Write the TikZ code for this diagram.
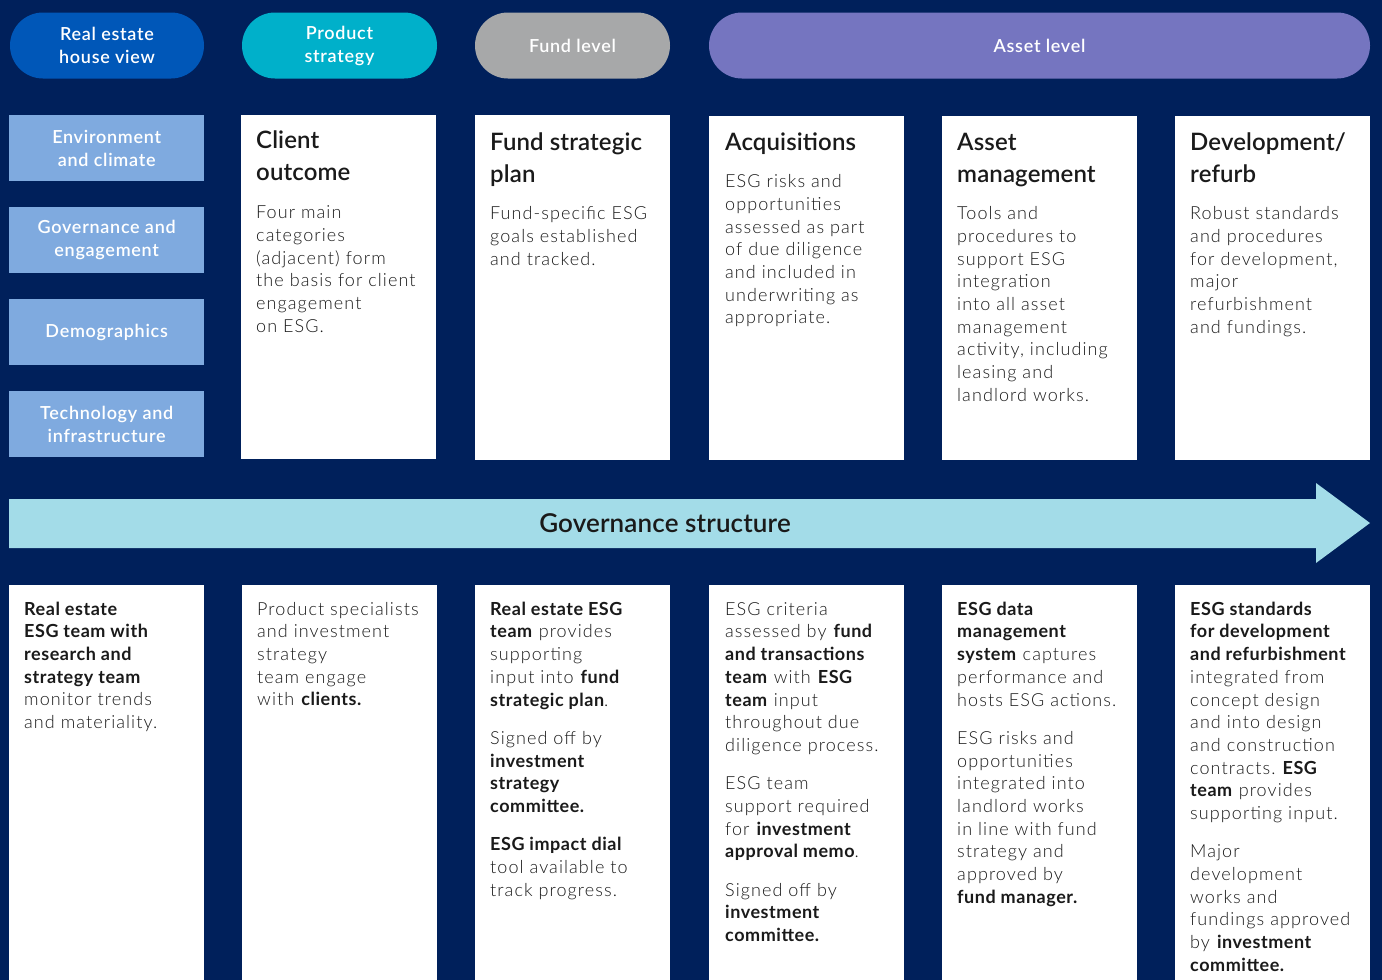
\documentclass[tikz,border=0pt]{standalone}
\usepackage{fontspec}
\setmainfont{Lato Light}[BoldFont={Lato Bold}, LetterSpace=6, BoldFeatures={LetterSpace=3}]
\newfontfamily\medfont{Lato Semibold}[LetterSpace=4]
\newfontfamily\titfont{Lato Semibold}[LetterSpace=0.5]
\frenchspacing
\definecolor{bg}{HTML}{00205B}
\definecolor{pillA}{HTML}{0057B8}
\definecolor{pillB}{HTML}{00B0CA}
\definecolor{pillC}{HTML}{A7A8A9}
\definecolor{pillD}{HTML}{7575C0}
\definecolor{catblue}{HTML}{7FAADF}
\definecolor{arrowcol}{HTML}{A3DCE8}
\definecolor{ink}{HTML}{1A1A1A}
\newcommand\bodyf{\fontsize{18}{22.7}\selectfont}
\newcommand\gap{15.6pt}
\tikzset{
  pill/.style={fill=#1, rounded corners=33pt, minimum height=66pt, inner sep=0pt,
    text=white, font=\medfont\fontsize{18}{23}\selectfont, align=center},
  catbox/.style={fill=catblue, anchor=north west, minimum width=195pt, minimum height=66pt,
    inner sep=0pt, text=white, font=\medfont\fontsize{18}{23}\selectfont, align=center},
  card/.style={fill=white, anchor=north west, inner sep=0pt, minimum width=195pt},
  cardtitle/.style={anchor=north west, inner sep=0pt, align=left, text=ink,
    font=\titfont\fontsize{24}{32}\selectfont},
  cardbody/.style={anchor=north west, inner sep=0pt, align=left, text=ink, font=\bodyf},
}
\begin{document}
\begin{tikzpicture}[x=1pt, y=-1pt]
\useasboundingbox (0,0) rectangle (1382,980);
\fill[bg] (0,0) rectangle (1382,980);

% header pills
\node[pill=pillA, minimum width=194pt] (p1) at (107,45.5) {Real estate\\house view};
\node[pill=pillB, minimum width=195pt] (p2) at (339.5,45.5) {Product\\strategy};
\node[pill=pillC, minimum width=195pt] (p3) at (572.5,45.5) {Fund level};
\node[pill=pillD, minimum width=661pt] (p4) at (1039.5,45.5) {Asset level};

% category boxes
\node[catbox] (c1) at (9,115) {Environment\\and climate};
\node[catbox] (c2) at (9,207) {Governance and\\engagement};
\node[catbox] (c3) at (9,299) {Demographics};
\node[catbox] (c4) at (9,391) {Technology and\\infrastructure};

% top cards
\node[card, minimum height=344pt] (t1) at (241,115) {};
\node[card, minimum height=345pt] (t2) at (475,115) {};
\node[card, minimum height=344pt] (t3) at (709,116) {};
\node[card, minimum height=344pt] (t4) at (942,116) {};
\node[card, minimum height=344pt] (t5) at (1175,116) {};

\node[cardtitle] (t1h) at (256,126.1) {\strut Client\\outcome};
\node[cardbody] (t1b) at (256,202.6) {\strut Four main\\categories\\(adjacent) form\\the basis for client\\engagement\\on ESG.};

\node[cardtitle] (t2h) at (490,127.6) {\strut Fund strategic\\plan};
\node[cardbody] (t2b) at (490,203.6) {\strut Fund-specific ESG\\goals established\\and tracked.};

\node[cardtitle] (t3h) at (725,127.6) {\strut Acquisitions};
\node[cardbody] (t3b) at (725,171.6) {\strut ESG risks and\\opportunities\\assessed as part\\of due diligence\\and included in\\underwriting as\\appropriate.};

\node[cardtitle] (t4h) at (957,127.6) {\strut Asset\\management};
\node[cardbody] (t4b) at (957,203.6) {\strut Tools and\\procedures to\\support ESG\\integration\\into all asset\\management\\activity, including\\leasing and\\landlord works.};

\node[cardtitle] (t5h) at (1190,127.6) {\strut Development/\\refurb};
\node[cardbody] (t5b) at (1190,203.6) {\strut Robust standards\\and procedures\\for development,\\major\\refurbishment\\and fundings.};

% governance arrow
\fill[arrowcol] (9,499) -- (1316,499) -- (1316,483) -- (1370,523) -- (1316,563) -- (1316,548) -- (9,548) -- cycle;
\node[text=ink, font=\titfont\fontsize{26}{30}\selectfont, inner sep=0pt] (gov) at (665,523.5) {Governance structure};

% bottom cards
\node[card, minimum height=395pt] (b1) at (9,585) {};
\node[card, minimum height=395pt] (b2) at (242,585) {};
\node[card, minimum height=395pt] (b3) at (475,585) {};
\node[card, minimum height=395pt] (b4) at (709,585) {};
\node[card, minimum height=395pt] (b5) at (942,585) {};
\node[card, minimum height=395pt] (b6) at (1175,585) {};

\node[cardbody] (b1t) at (24,599.1) {\strut\textbf{Real estate}\\\textbf{ESG team with}\\\textbf{research and}\\\textbf{strategy team}\\monitor trends\\and materiality.};

\node[cardbody] (b2t) at (257,599.1) {\strut Product specialists\\and investment\\strategy\\team engage\\with \textbf{clients.}};

\node[cardbody] (b3t) at (490,599.1) {\strut\textbf{Real estate ESG}\\\textbf{team} provides\\supporting\\input into \textbf{fund}\\\textbf{strategic plan}.\\[\gap]Signed off by\\\textbf{investment}\\\textbf{strategy}\\\textbf{committee.}\\[\gap]\textbf{ESG impact dial}\\tool available to\\track progress.};

\node[cardbody] (b4t) at (725,599.1) {\strut ESG criteria\\assessed by \textbf{fund}\\\textbf{and transactions}\\\textbf{team} with \textbf{ESG}\\\textbf{team} input\\throughout due\\diligence process.\\[\gap]ESG team\\support required\\for \textbf{investment}\\\textbf{approval memo}.\\[\gap]Signed off by\\\textbf{investment}\\\textbf{committee.}};

\node[cardbody] (b5t) at (957,599.1) {\strut\textbf{ESG data}\\\textbf{management}\\\textbf{system} captures\\performance and\\hosts ESG actions.\\[\gap]ESG risks and\\opportunities\\integrated into\\landlord works\\in line with fund\\strategy and\\approved by\\\textbf{fund manager.}};

\node[cardbody] (b6t) at (1190,599.1) {\strut\textbf{ESG standards}\\\textbf{for development}\\\textbf{and refurbishment}\\integrated from\\concept design\\and into design\\and construction\\contracts. \textbf{ESG}\\\textbf{team} provides\\supporting input.\\[\gap]Major\\development\\works and\\fundings approved\\by \textbf{investment}\\\textbf{committee.}};
\end{tikzpicture}
\end{document}
